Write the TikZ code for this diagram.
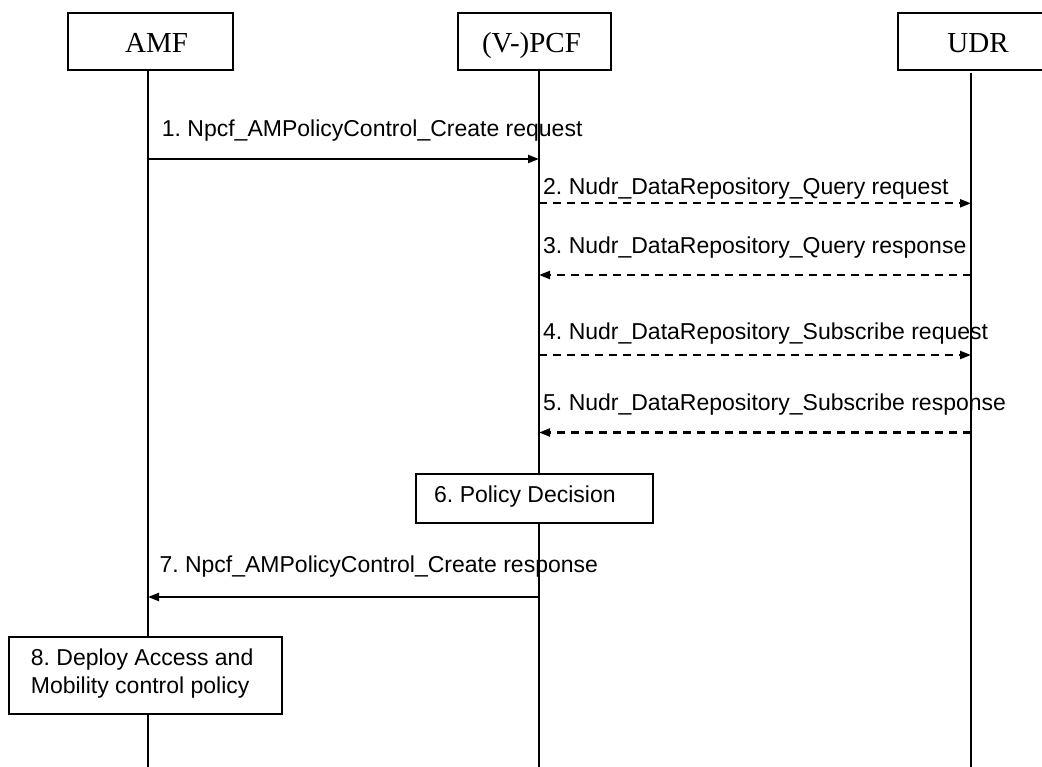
\documentclass[tikz,border=0pt]{standalone}
\usepackage{fontspec}
\setmainfont{Liberation Serif}
\newfontfamily\arialfont{Liberation Sans}
\usetikzlibrary{arrows.meta}
\frenchspacing
\tikzset{
  hbox/.style={draw, line width=1.8pt, rectangle, inner sep=0pt},
  title/.style={font=\fontsize{29}{34}\selectfont, inner sep=0pt, anchor=base},
  lbl/.style={font=\arialfont\fontsize{23}{28}\selectfont, inner sep=0pt, anchor=base west},
  life/.style={line width=1.8pt},
  msg/.style={line width=2.2pt, -{Triangle[length=11pt,width=8pt]}},
  dmsg/.style={msg, dash pattern=on 8pt off 6pt},
}
\begin{document}
\frenchspacing
\begin{tikzpicture}[x=1pt,y=-1pt]
\clip (0,0) rectangle (1042,767);
\useasboundingbox (0,0) rectangle (1042,767);
% head boxes
\node[hbox, minimum width=165pt, minimum height=57.3pt] (amf) at (150.2,41.35) {};
\node[title] (amft) at (156.5,52.7) {AMF};
\node[hbox, minimum width=153.3pt, minimum height=57.3pt] (pcf) at (534.3,41.35) {};
\node[title] (pcft) at (531.5,52.7) {(V-)PCF};
\node[hbox, minimum width=160pt, minimum height=57.3pt] (udr) at (978,41.35) {};
\node[title] (udrt) at (978,52.7) {UDR};
% lifelines
\coordinate (at) at (148,70);
\coordinate (ab) at (148,770);
\coordinate (pt) at (539,70);
\coordinate (pb) at (539,770);
\coordinate (ut) at (971,73);
\coordinate (ub) at (971,770);
\draw[life] (at) -- (ab);
\draw[life] (pt) -- (pb);
\draw[life] (ut) -- (ub);
% message end points
\coordinate (a1) at (148,159);   \coordinate (p1) at (539,159);
\coordinate (p2) at (539,203.3); \coordinate (u2) at (971,203.3);
\coordinate (u3) at (971,275);   \coordinate (p3) at (539,275);
\coordinate (p4) at (539,355);   \coordinate (u4) at (971,355);
\coordinate (u5) at (971,432.5); \coordinate (p5) at (539,432.5);
\coordinate (p7) at (539,597);   \coordinate (a7) at (148,597);
% messages
\draw[msg] (a1) -- (p1);
\node[lbl] (m1) at (161.7,137) {1. Npcf\_AMPolicyControl\_Create request};
\draw[dmsg] (p2) -- (u2);
\node[lbl] (m2) at (543,195) {2. Nudr\_DataRepository\_Query request};
\draw[dmsg] (u3) -- (p3);
\node[lbl] (m3) at (543,254) {3. Nudr\_DataRepository\_Query response};
\draw[dmsg] (p4) -- (u4);
\node[lbl] (m4) at (543,340) {4. Nudr\_DataRepository\_Subscribe request};
\draw[dmsg] (u5) -- (p5);
\node[lbl] (m5) at (543,410) {5. Nudr\_DataRepository\_Subscribe response};
% box 6
\node[hbox, fill=white, minimum width=237pt, minimum height=48.7pt] (b6) at (534.5,498.35) {};
\node[lbl] (b6t) at (434,502) {6. Policy Decision};
% message 7
\draw[msg] (p7) -- (a7);
\node[lbl] (m7) at (159.3,572) {7. Npcf\_AMPolicyControl\_Create response};
% box 8
\node[hbox, fill=white, minimum width=272.4pt, minimum height=77.3pt] (b8) at (145.5,675.35) {};
\node[lbl, anchor=north west, align=left] (b8t) at (30.7,648.3) {8. Deploy Access and\\Mobility control policy};
\end{tikzpicture}
\end{document}
